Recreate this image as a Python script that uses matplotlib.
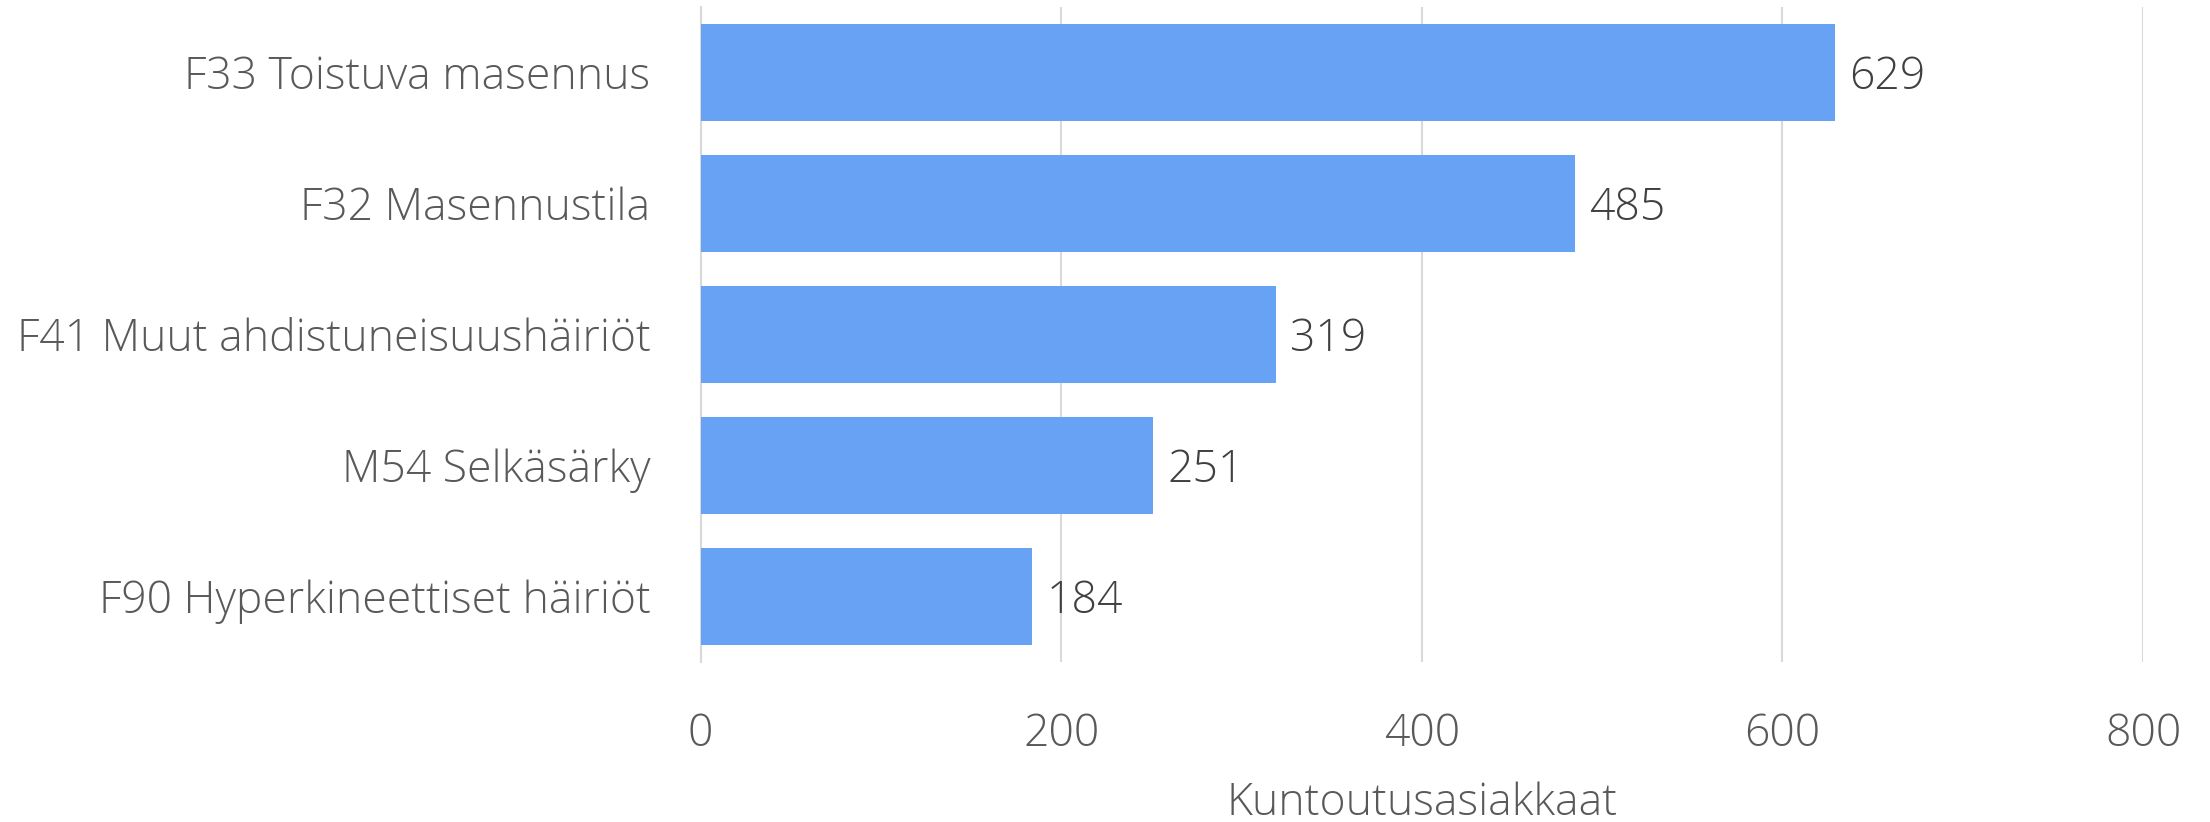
import matplotlib
matplotlib.use("Agg")
from matplotlib import pyplot as plt

categories = [
    "F33 Toistuva masennus",
    "F32 Masennustila",
    "F41 Muut ahdistuneisuushäiriöt",
    "M54 Selkäsärky",
    "F90 Hyperkineettiset häiriöt",
]
values = [629, 485, 319, 251, 184]
xticks = [0, 200, 400, 600, 800]

BAR_COLOR = "#67a2f5"
LABEL_COLOR = "#595959"
VALUE_COLOR = "#404040"
GRID_COLOR = "#d9d9d9"

plt.rcParams["font.family"] = ["Open Sans", "DejaVu Sans"]
plt.rcParams["font.weight"] = "light"

fig = plt.figure(figsize=(22.1, 8.22), dpi=100)
ax = fig.add_axes([0.317, 0.1946, 0.6527, 0.797])

pos = list(range(len(categories)))
ax.barh(pos, values, height=0.735, color=BAR_COLOR, zorder=3)

for y, v in zip(pos, values):
    ax.text(v + 8, y + 0.04, str(v), va="center", ha="left", fontsize=32,
            color=VALUE_COLOR, fontweight="light")

ax.set_xlim(0, 800)
ax.set_ylim(4.5, -0.5)
ax.set_xticks(xticks)
ax.set_xticklabels([str(t) for t in xticks])
ax.set_yticks(pos)
ax.set_yticklabels(categories)

ax.grid(axis="x", color=GRID_COLOR, linewidth=1.5, zorder=0)
for s in ["top", "right", "bottom"]:
    ax.spines[s].set_visible(False)
ax.spines["left"].set_color(GRID_COLOR)
ax.spines["left"].set_linewidth(1.5)

ax.tick_params(axis="both", length=0, labelsize=32, labelcolor=LABEL_COLOR)
ax.tick_params(axis="y", pad=36)
ax.tick_params(axis="x", pad=36)

ax.set_xlabel("Kuntoutusasiakkaat", fontsize=32, color=LABEL_COLOR,
              fontweight="light", labelpad=18)

fig.savefig("out.png", dpi=100)
